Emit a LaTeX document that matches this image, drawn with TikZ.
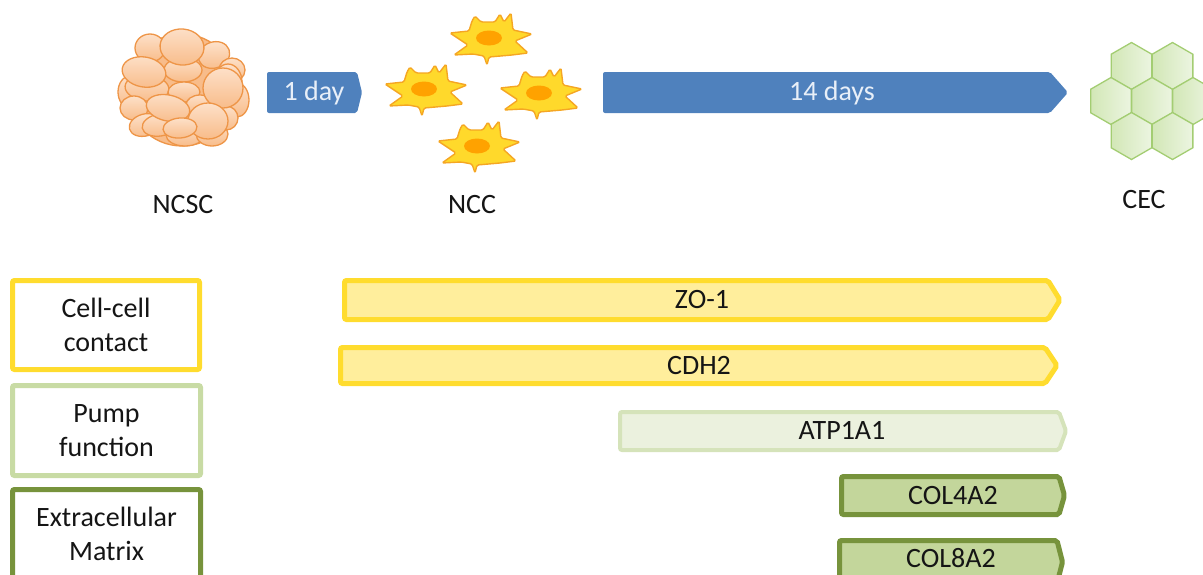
\documentclass[tikz,border=0pt]{standalone}
\usepackage{fontspec}
\setmainfont{Carlito}
\definecolor{txt}{HTML}{151515}
\definecolor{blueA}{HTML}{4F81BD}
\definecolor{blueTxt}{HTML}{E8EFF8}
\definecolor{yelEdge}{HTML}{FFDC2E}
\definecolor{yelFill}{HTML}{FFEE9C}
\definecolor{lgEdge}{HTML}{D5E3BA}
\definecolor{lgBox}{HTML}{C8DBA4}
\definecolor{lgFill}{HTML}{EBF1DE}
\definecolor{dgEdge}{HTML}{77933C}
\definecolor{dgFill}{HTML}{C3D69B}
\definecolor{orA}{HTML}{FDE0C8}
\definecolor{orB}{HTML}{F8BC8A}
\definecolor{orEdge}{HTML}{EE9547}
\definecolor{cellFill}{HTML}{FFD92B}
\definecolor{cellEdge}{HTML}{F5A623}
\definecolor{nucleus}{HTML}{FFA200}
\definecolor{hexA}{HTML}{D2E7B6}
\definecolor{hexB}{HTML}{ECF5E1}
\definecolor{hexEdge}{HTML}{A3CD72}
% chevron-ended bar: style, left x, top y, shoulder x, tip x, bottom y
\newcommand\chevshape[6]{\path[#1] (#2,#3) -- (#4,#3) -- (#5,{(#3+#6)/2}) -- (#4,#6) -- (#2,#6) -- cycle;}
\begin{document}
\begin{tikzpicture}[x=1pt,y=-1pt,
  every node/.style={font=\fontsize{28}{34}\selectfont, text=txt, inner sep=0pt},
  lbl/.style={anchor=base},
  daytext/.style={anchor=base, text=blueTxt},
  timearrow/.style={fill=blueA, rounded corners=2},
  yelbar/.style={draw=yelEdge, fill=yelFill, line width=5, rounded corners=2},
  lgbar/.style={draw=lgEdge, fill=lgFill, line width=4, rounded corners=2},
  dgbar/.style={draw=dgEdge, fill=dgFill, line width=5, rounded corners=2},
  catbox/.style={line width=5, rounded corners=2, align=center, fill=white},
  blob/.style={draw=orEdge, line width=1.3, top color=orA, bottom color=orB},
  cellstyle/.style={fill=cellFill, draw=cellEdge, line width=1.4, rounded corners=1.5},
  hexstyle/.style={draw=hexEdge, line width=1.3, left color=hexA, right color=hexB},
  ncccell/.pic={
    \path[cellstyle] (-40,-5) -- (-21,-7) -- (-18,-17) -- (-15,-22) -- (-9,-16) -- (5,-16)
      -- (10,-24) -- (14,-16) -- (21,-25) -- (23,-8) -- (42,-4) -- (25,3) -- (38,15)
      -- (22,17) -- (-1,19) -- (-3,27) -- (-6,18) -- (-17,16) -- (-36,17) -- (-22,7) -- cycle;
    \fill[nucleus] (-1,0) ellipse [x radius=13, y radius=7.5];
  },
  hexcell/.pic={
    \path[hexstyle] (90:23.5) -- (150:23.5) -- (210:23.5) -- (270:23.5) -- (330:23.5) -- (30:23.5) -- cycle;
  }]
\useasboundingbox (0,0) rectangle (1203,574);
\clip (0,0) rectangle (1203,574);

% neural crest stem cell sphere: a core with overlapping cells on it
\path[draw=orEdge, line width=1.3, fill=orB] (182,90) ellipse [x radius=55, y radius=56];
\foreach \cx/\cy/\rx/\ry/\rt in {
  150/48/15/14/0, 214/55/16/13/20, 232/70/13/12/0, 237/100/12/17/0, 228/82/14/18/0,
  130/92/12/16/0, 183/70/19/12/0, 147/88/22/13/-5, 134/108/14/12/0, 184/92/16/10/0,
  200/105/14/10/0, 145/125/16/11/15, 160/125/18/11/10, 185/135/19/11/0, 212/134/16/12/0,
  226/118/12/12/0,
  182/47/22/18/-5, 144/72/22/15/-10, 223/88/20/20/0,
  168/108/22/13/-12, 208/121/20/18/0, 180/128/17/10/5}
  \path[blob, rotate around={\rt:(\cx,\cy)}] (\cx,\cy) ellipse [x radius=\rx, y radius=\ry];
\node[lbl] (ncsc) at (183,213) {NCSC};

% one-day step
\chevshape{timearrow}{267}{72}{357}{362}{113}
\node[daytext] (day1) at (314,100) {1 day};

% neural crest cells
\pic at (490,38) {ncccell};
\pic at (425,89) {ncccell};
\pic at (540,93) {ncccell};
\pic at (478,146) {ncccell};
\node[lbl] (ncc) at (472,213) {NCC};

% fourteen-day step
\chevshape{timearrow}{603}{72}{1050}{1068}{113}
\node[daytext] (day14) at (832,100) {14 days};

% corneal endothelial cell sheet
\foreach \hx/\hy in {1131.5/66, 1172.5/66, 1111/101, 1152/101, 1193/101, 1131.5/136, 1172.5/136}
  \pic at (\hx,\hy) {hexcell};
\node[lbl] (cec) at (1144,208) {CEC};

% categories
\node[catbox, draw=yelEdge, minimum width=187, minimum height=89] (contact) at (106,325) {Cell-cell\\contact};
\node[catbox, draw=lgBox, minimum width=188, minimum height=90] (pump) at (106.5,430.5) {Pump\\function};
\node[catbox, draw=dgEdge, minimum width=188, minimum height=89] (ecm) at (106.5,534) {Extracellular\\Matrix};

% marker expression bars
\chevshape{yelbar}{344.5}{280.5}{1048}{1060}{319.5}
\node[lbl] (zo1) at (702,308.5) {ZO-1};
\chevshape{yelbar}{340.5}{347.5}{1045}{1057}{383.5}
\node[lbl] (cdh2) at (699,374) {CDH2};
\chevshape{lgbar}{620}{412}{1059}{1066}{450}
\node[lbl] (atp1a1) at (842,439.5) {ATP1A1};
\chevshape{dgbar}{841.5}{476.5}{1059}{1064.5}{514.5}
\node[lbl] (col4a2) at (953,504) {COL4A2};
\chevshape{dgbar}{839.5}{540.5}{1057}{1062.5}{583.5}
\node[lbl] (col8a2) at (951,567) {COL8A2};
\end{tikzpicture}
\end{document}
